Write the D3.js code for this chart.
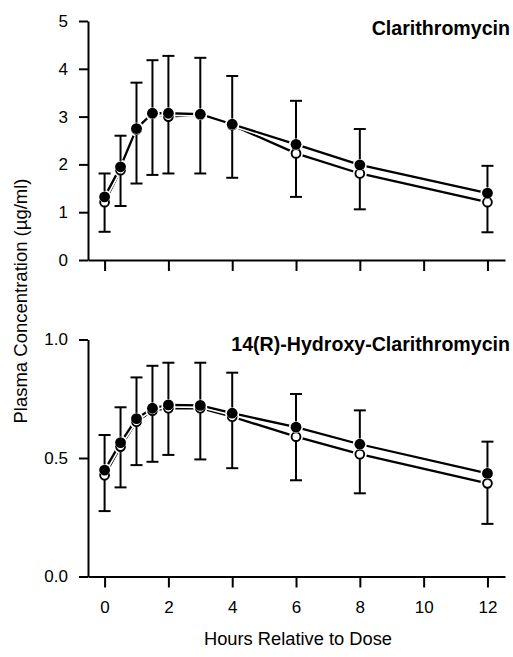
<!DOCTYPE html>
<html>
<head>
<meta charset="utf-8">
<script src="https://cdn.jsdelivr.net/npm/d3@7"></script>
<style>
html,body{margin:0;padding:0;background:#fff;}
svg{display:block;font-family:"Liberation Sans",Arial,Helvetica,sans-serif;}
</style>
</head>
<body>
<svg id="chart" width="513" height="657"></svg>
<script>
// ---- data ----
const times = [0, 0.5, 1, 1.5, 2, 3, 4, 6, 8, 12];
const xTicks = [0, 2, 4, 6, 8, 10, 12];

const clarFilled  = [1.32, 1.95, 2.75, 3.07, 3.07, 3.05, 2.84, 2.42, 1.99, 1.40];
const clarOpen    = [1.21, 1.88, 2.73, 3.06, 3.00, 3.04, 2.82, 2.23, 1.81, 1.21];
const clarErrHigh = [1.81, 2.60, 3.71, 4.18, 4.27, 4.23, 3.85, 3.33, 2.74, 1.97];
const clarErrLow  = [0.59, 1.13, 1.60, 1.78, 1.81, 1.81, 1.72, 1.32, 1.06, 0.58];
const clarTicks   = [0, 1, 2, 3, 4, 5];

const hydFilled  = [0.449, 0.565, 0.666, 0.710, 0.724, 0.722, 0.689, 0.630, 0.558, 0.435];
const hydOpen    = [0.427, 0.548, 0.653, 0.700, 0.710, 0.710, 0.674, 0.590, 0.516, 0.393];
const hydErrHigh = [0.597, 0.714, 0.840, 0.889, 0.902, 0.902, 0.860, 0.770, 0.701, 0.569];
const hydErrLow  = [0.276, 0.376, 0.470, 0.484, 0.513, 0.494, 0.457, 0.406, 0.351, 0.222];
const hydTicks   = [0.0, 0.5, 1.0];

const titles = ["Clarithromycin", "14(R)-Hydroxy-Clarithromycin"];
const xLabel = "Hours Relative to Dose";
const yLabel = "Plasma Concentration (\u00b5g/ml)";

// ---- drawing ----
const svg = d3.select("#chart");
const x = d3.scaleLinear().domain([-0.52, 12.55]).range([88, 505]);

function panel(cfg) {
  const y = d3.scaleLinear().domain(cfg.domain).range(cfg.range);
  const g = svg.append("g");

  // axes
  const xa = g.append("g")
    .attr("transform", `translate(0,${cfg.range[0]})`)
    .call(d3.axisBottom(x).tickValues(xTicks).tickSize(11).tickSizeOuter(0).tickPadding(13)
      .tickFormat(cfg.showX ? d3.format("d") : () => ""));
  const ya = g.append("g")
    .attr("transform", "translate(88,0)")
    .call(d3.axisLeft(y).tickValues(cfg.ticks).tickSize(9).tickSizeOuter(0).tickPadding(11)
      .tickFormat(cfg.fmt));
  [xa, ya].forEach(a => {
    a.selectAll("path.domain").attr("stroke", "#000").attr("stroke-width", 2);
    a.selectAll(".tick line").attr("stroke", "#000").attr("stroke-width", 2);
    a.selectAll(".tick text").attr("fill", "#000").style("font-size", "17px");
  });

  const line = d3.line().x((d, i) => x(times[i])).y(d => y(d));

  // lines with white casing
  [cfg.open, cfg.filled].forEach(s => {
    g.append("path").attr("d", line(s)).attr("fill", "none")
      .attr("stroke", "#fff").attr("stroke-width", 5.5);
    g.append("path").attr("d", line(s)).attr("fill", "none")
      .attr("stroke", "#000").attr("stroke-width", 2.3);
  });

  // marker halos
  [cfg.open, cfg.filled].forEach(s => {
    g.selectAll(null).data(s).enter().append("circle")
      .attr("cx", (d, i) => x(times[i])).attr("cy", d => y(d))
      .attr("r", 7).attr("fill", "#fff");
  });

  // error bars
  const eb = g.append("g").attr("stroke", "#000").attr("stroke-width", 2);
  times.forEach((t, i) => {
    const cx = x(t);
    eb.append("line").attr("x1", cx).attr("x2", cx)
      .attr("y1", y(cfg.errHigh[i])).attr("y2", y(cfg.errLow[i]));
    eb.append("line").attr("x1", cx - 6).attr("x2", cx + 6)
      .attr("y1", y(cfg.errHigh[i])).attr("y2", y(cfg.errHigh[i]));
    eb.append("line").attr("x1", cx - 6).attr("x2", cx + 6)
      .attr("y1", y(cfg.errLow[i])).attr("y2", y(cfg.errLow[i]));
  });

  // open markers
  g.selectAll(null).data(cfg.open).enter().append("circle")
    .attr("cx", (d, i) => x(times[i])).attr("cy", d => y(d))
    .attr("r", 4.4).attr("fill", "#fff").attr("stroke", "#000").attr("stroke-width", 1.9);
  // filled markers with thin white ring
  g.selectAll(null).data(cfg.filled).enter().append("circle")
    .attr("cx", (d, i) => x(times[i])).attr("cy", d => y(d))
    .attr("r", 5.4).attr("fill", "#000").attr("stroke", "#fff").attr("stroke-width", 1)
    .attr("paint-order", "stroke");

  g.append("text").attr("x", 510).attr("y", cfg.titleY).attr("text-anchor", "end")
    .style("font-size", "19.6px").style("font-weight", "bold").text(cfg.title);
}

panel({
  domain: [0, 5], range: [260, 21], ticks: clarTicks, fmt: d3.format("d"),
  filled: clarFilled, open: clarOpen, errHigh: clarErrHigh, errLow: clarErrLow,
  title: titles[0], titleY: 35, showX: false
});
panel({
  domain: [0, 1], range: [576.5, 339.5], ticks: hydTicks, fmt: d3.format(".1f"),
  filled: hydFilled, open: hydOpen, errHigh: hydErrHigh, errLow: hydErrLow,
  title: titles[1], titleY: 351, showX: true
});

svg.append("text").attr("x", 298).attr("y", 645).attr("text-anchor", "middle")
  .style("font-size", "18.3px").text(xLabel);
svg.append("text").attr("transform", "translate(27,301) rotate(-90)")
  .attr("text-anchor", "middle").style("font-size", "18.5px").text(yLabel);
</script>
</body>
</html>
